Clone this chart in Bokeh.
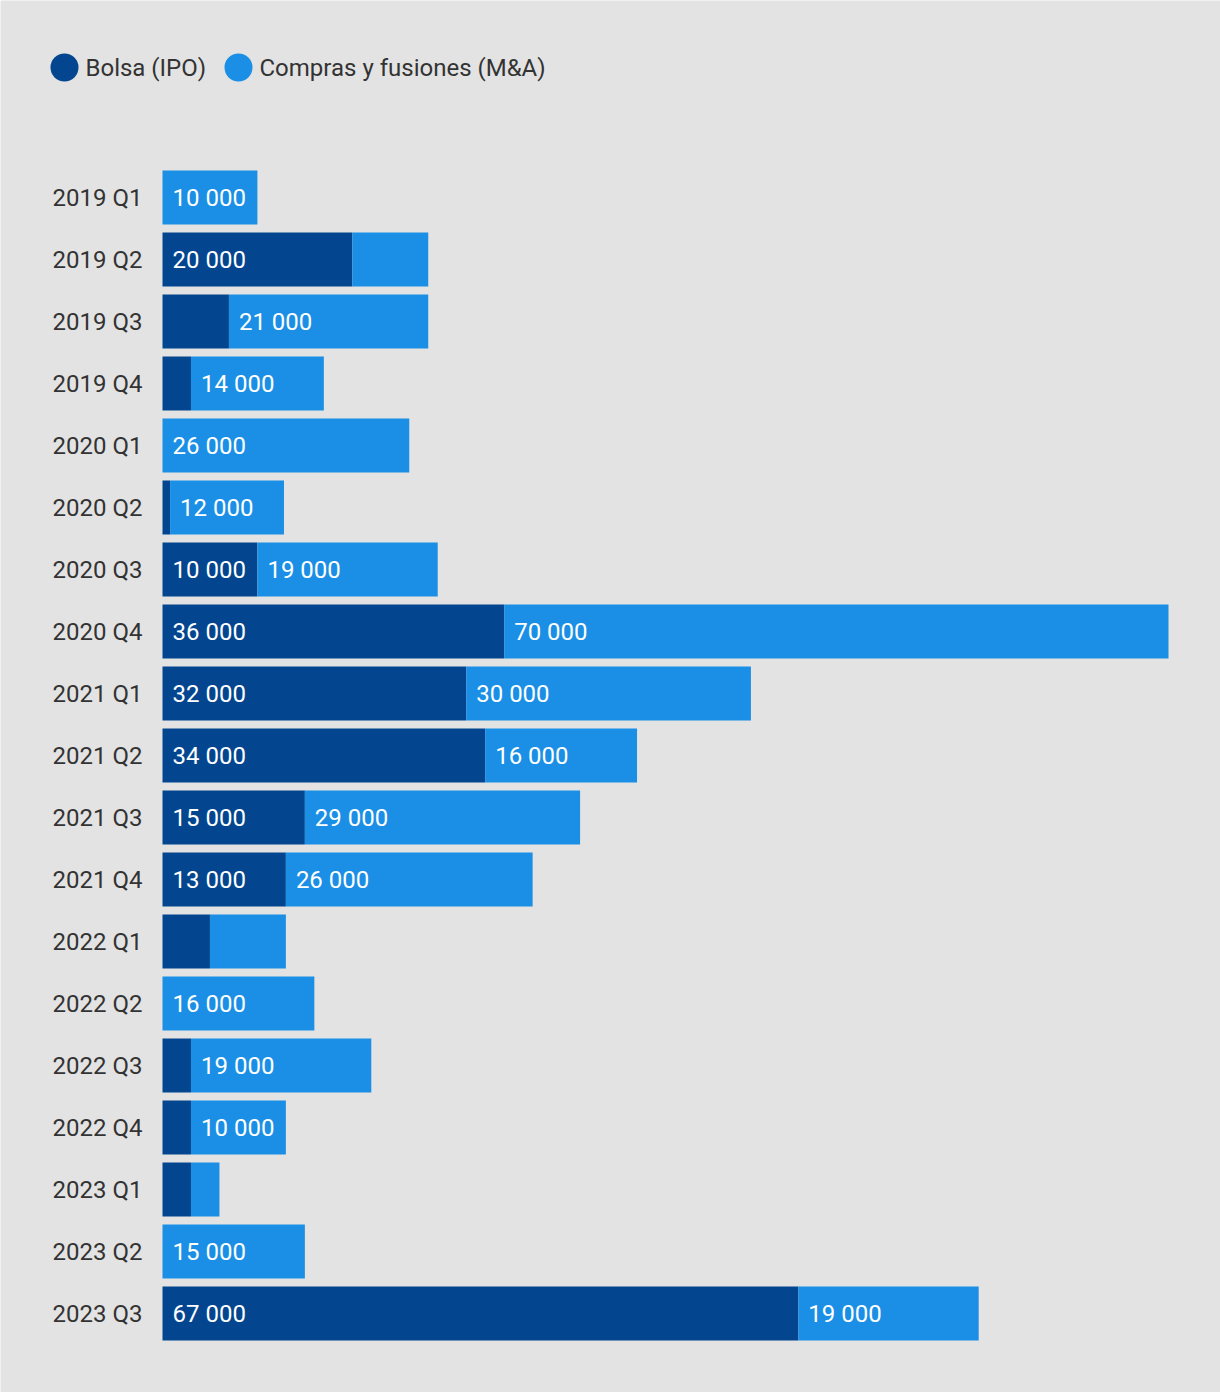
from bokeh.plotting import figure
from bokeh.models import ColumnDataSource, Range1d
from bokeh.core.properties import value
from bokeh.embed import file_html
from bokeh.resources import INLINE

categories = ["2019 Q1", "2019 Q2", "2019 Q3", "2019 Q4",
              "2020 Q1", "2020 Q2", "2020 Q3", "2020 Q4",
              "2021 Q1", "2021 Q2", "2021 Q3", "2021 Q4",
              "2022 Q1", "2022 Q2", "2022 Q3", "2022 Q4",
              "2023 Q1", "2023 Q2", "2023 Q3"]
ipo = [0, 20000, 7000, 3000, 0, 800, 10000, 36000, 32000, 34000, 15000, 13000,
       5000, 0, 3000, 3000, 3000, 0, 67000]
ma = [10000, 8000, 21000, 14000, 26000, 12000, 19000, 70000, 30000, 16000, 29000, 26000,
      8000, 16000, 19000, 10000, 3000, 15000, 19000]
series_names = ["Bolsa (IPO)", "Compras y fusiones (M&A)"]

DARK = "#03468f"
LIGHT = "#1a8fe5"
BG = "#e3e3e3"
TXT = "#333333"
FONT = value("Roboto")

W, H = 1220, 1392
# pixel geometry (figure coords)
x0_px = 162           # where value 0 sits
px_per_unit = 1006 / 106000.0
row_px = 62
row0_px = 197         # centre of first row from figure top

k = 1.0 / px_per_unit
x_start = -x0_px * k
x_end = (W - x0_px) * k
y_top = -row0_px / row_px
y_bottom = (H - row0_px) / row_px

p = figure(width=W, height=H, output_backend="svg", toolbar_location=None,
           x_range=Range1d(x_start, x_end), y_range=Range1d(y_bottom, y_top),
           min_border=0, min_border_left=0, min_border_right=0,
           min_border_top=0, min_border_bottom=0)
p.axis.visible = False
p.grid.visible = False
p.outline_line_color = None
p.background_fill_color = BG
p.border_fill_color = BG

n = len(categories)
ys = list(range(n))
total = [a + b for a, b in zip(ipo, ma)]
src = ColumnDataSource(dict(y=ys, ipo=ipo, ma=ma, total=total, cat=categories))
bh = 54 / row_px
p.hbar(y="y", left=0, right="ipo", height=bh, source=src, color=DARK, line_color=None)
p.hbar(y="y", left="ipo", right="total", height=bh, source=src, color=LIGHT, line_color=None)

# category labels
p.text(x=[-20 * k] * n, y=ys, text=categories, text_align="right", text_baseline="middle",
       text_font=FONT, text_font_size="24px", text_color=TXT)

# value labels
def fmt(v):
    return f"{v:,}".replace(",", " ")

lx, ly, lt = [], [], []
for i in range(n):
    if ipo[i] >= 10000:
        lx.append(0 + 10 * k); ly.append(i); lt.append(fmt(ipo[i]))
    if ma[i] >= 10000:
        lx.append(ipo[i] + 10 * k); ly.append(i); lt.append(fmt(ma[i]))
p.text(x=lx, y=ly, text=lt, text_align="left", text_baseline="middle",
       text_font=FONT, text_font_size="24px", text_color="white")

# legend
leg_y = (67 - row0_px) / row_px
cx = [(64 - x0_px) * k, (238 - x0_px) * k]
tx = [(85 - x0_px) * k, (259 - x0_px) * k]
p.scatter(x=cx, y=[leg_y] * 2, size=28, marker="circle", color=[DARK, LIGHT], line_color=None)
p.text(x=tx, y=[leg_y] * 2, text=series_names, text_align="left", text_baseline="middle",
       text_font=FONT, text_font_size="24px", text_color=TXT)

open("out.html", "w").write(file_html(p, INLINE))
